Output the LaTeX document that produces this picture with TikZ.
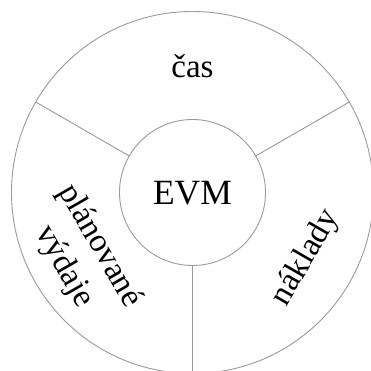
\documentclass[tikz,border=0pt]{standalone}
\usepackage{fontspec}
\setmainfont{Liberation Serif}
\usetikzlibrary{
    positioning
}

\begin{document}
\begin{tikzpicture}
[
    x=1pt,
    y=1pt,
    font=\fontsize{33}{41}\selectfont,
    ring/.style={
        circle,
        draw=black!40,
        line width=0.9pt,
        inner sep=0pt,
        outer sep=0pt
    },
    divider/.style={
        draw=black!40,
        line width=0.9pt
    },
    label/.style={
        align=center,
        inner sep=0pt
    }
]

\useasboundingbox (-192.5,-178.5) rectangle (177.5,192.5);

% =====================
% CIRCLES
% =====================

\node[
ring,
minimum size=362pt
]
(outer)
at (0,0)
{};


\node[
ring,
minimum size=146pt
]
(evm)
at (0,0)
{};


\node[
label,
anchor=base,
font=\fontsize{35.5}{41}\selectfont
]
(evmtext)
at (0,-12.5)
{EVM};



% =====================
% SEGMENT LABELS
% =====================

\node[
label,
anchor=base
]
(cas)
at (0,114.5)
{čas};


\node[
label,
rotate=60
]
(naklady)
at (-30:131)
{náklady};


\node[
label,
rotate=-60
]
(vydaje)
at (210:128)
{plánované\\výdaje};



% =====================
% DIVIDERS
% =====================

\draw[divider]
(evm.30)
--
(outer.30);


\draw[divider]
(evm.150)
--
(outer.150);


\draw[divider]
(evm.270)
--
(outer.270);


\end{tikzpicture}
\end{document}
